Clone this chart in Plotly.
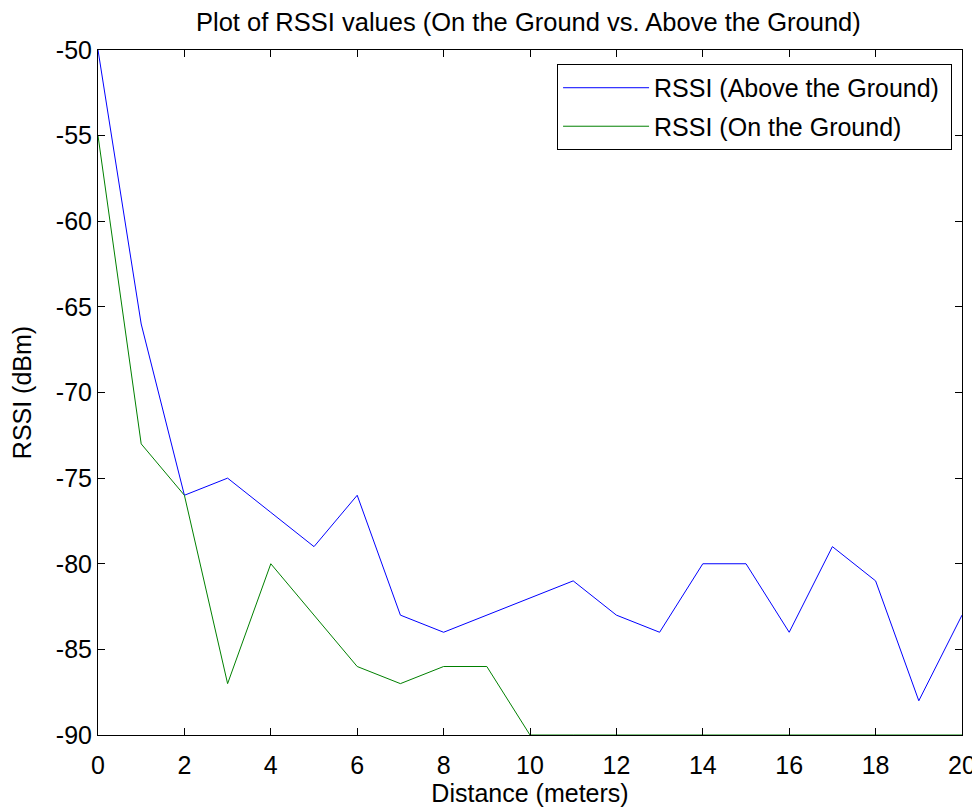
import plotly.graph_objects as go

distance = list(range(0, 21))
rssi_above = [-50, -66, -76, -75, -77, -79, -76, -83, -84, -83, -82, -81, -83, -84, -80, -80, -84, -79, -81, -88, -83]
rssi_ground = [-55, -73, -76, -87, -80, -83, -86, -87, -86, -86, -90, -90, -90, -90, -90, -90, -90, -90, -90, -90, -90]
series_names = ["RSSI (Above the Ground)", "RSSI (On the Ground)"]

x_ticks = list(range(0, 21, 2))
y_ticks = list(range(-90, -49, 5))

fig = go.Figure()
fig.add_trace(go.Scatter(x=distance, y=rssi_above, mode="lines", name=series_names[0] + "\u00a0",
                         legendgroup="a", line=dict(color="#0000ff", width=1)))
fig.add_trace(go.Scatter(x=distance, y=rssi_ground, mode="lines", name=series_names[1] + "\u00a0",
                         legendgroup="b", line=dict(color="#008000", width=1)))

font = "Liberation Sans, Arial, sans-serif"
fs = 25
axis_common = dict(showgrid=False, zeroline=False, showline=True, linecolor="black", linewidth=1,
                   mirror="ticks", ticks="inside", ticklen=7, tickcolor="black",
                   tickfont=dict(family=font, size=fs, color="black"))
fig.update_xaxes(range=[0, 20], tickvals=x_ticks, ticktext=[str(v) for v in x_ticks], ticklabelstandoff=8,
                 title=dict(text="Distance (meters)", font=dict(family=font, size=fs, color="black"), standoff=6),
                 **axis_common)
fig.update_yaxes(range=[-90, -50], tickvals=y_ticks, ticktext=[str(v) for v in y_ticks],
                 title=dict(text="RSSI (dBm)", font=dict(family=font, size=fs, color="black"), standoff=18),
                 **axis_common)

fig.update_layout(
    width=980, height=807,
    paper_bgcolor="white", plot_bgcolor="white",
    margin=dict(l=89, r=25, t=42, b=80),
    title=dict(text="Plot of RSSI values (On the Ground vs. Above the Ground)",
               font=dict(family=font, size=fs + 0.5, color="black"), x=0.531, xanchor="center", y=0.983, yanchor="middle"),
    legend=dict(x=0.9885, xanchor="right", y=0.9796, yanchor="top", bgcolor="white",
                bordercolor="black", borderwidth=1, font=dict(family=font, size=fs, color="black"),
                itemwidth=86, tracegroupgap=3, traceorder="grouped"),
    showlegend=True,
)
fig.write_html("out.html")
